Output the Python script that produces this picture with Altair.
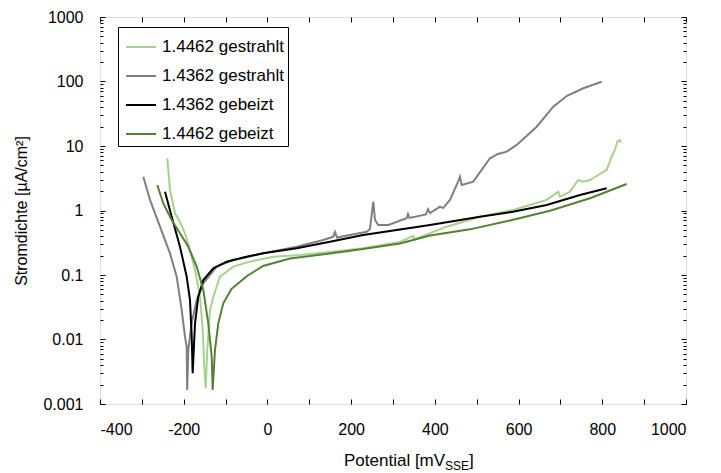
import altair as alt
import pandas as pd

SERIES = ["1.4462 gestrahlt", "1.4362 gestrahlt", "1.4362 gebeizt", "1.4462 gebeizt"]
COLORS = ["#a9d18e", "#7f7f7f", "#000000", "#548235"]

# 1.4462 gestrahlt
lg_E = [-239.2, -232.8, -220.8, -208.9, -196.9, -187.4, -173.0, -161.1, -154.6, -150.8,
        -147.5, -143.7, -137.2, -129.3, -113.3, -81.5, -41.6, 14.0, 77.8, 149.5,
        228.3, 316.7, 348.5, 351.0, 428.3, 507.8, 587.4, 667.2, 694.9, 698.9,
        722.8, 742.7, 753.9, 770.6, 790.4, 810.5, 822.5, 830.3, 835.8, 842.3, 843.9]
lg_i = [6.45, 2.08, 0.906, 0.664, 0.444, 0.272, 0.120, 0.0461, 0.0140, 0.00378,
        0.00175, 0.00687, 0.0286, 0.0461, 0.0942, 0.135, 0.161, 0.192, 0.204, 0.227,
        0.259, 0.325, 0.403, 0.355, 0.561, 0.802, 1.02, 1.46, 1.96, 1.64,
        1.96, 2.97, 2.80, 2.97, 3.55, 4.25, 6.82, 8.67, 11.7, 12.4, 11.2]

# 1.4362 gestrahlt
gr_E = [-296.6, -280.5, -256.7, -232.8, -216.8, -204.8, -196.9, -192.9, -191.7, -189.1,
        -180.9, -169.0, -153.2, -121.2, -81.5, -9.9, 69.9, 133.5, 157.3, 161.4,
        166.2, 197.3, 237.1, 245.0, 252.9, 257.0, 264.9, 288.8, 332.5, 335.8,
        339.4, 378.8, 383.6, 388.4, 412.3, 419.4, 436.2, 455.2, 460.0, 464.1,
        491.8, 531.7, 550.8, 571.6, 595.5, 643.3, 683.0, 714.9, 754.6, 798.6]
gr_i = [3.34, 1.46, 0.561, 0.217, 0.0942, 0.0286, 0.0110, 0.00773, 0.00165, 0.00687,
        0.0180, 0.0409, 0.0743, 0.135, 0.171, 0.217, 0.275, 0.349, 0.393, 0.465,
        0.381, 0.417, 0.469, 0.516, 1.37, 0.713, 0.595, 0.595, 0.757, 0.883,
        0.766, 0.867, 1.05, 0.914, 1.15, 1.09, 1.46, 2.77, 3.34, 2.48,
        2.80, 6.45, 7.52, 8.16, 10.4, 19.9, 40.7, 59.6, 78.5, 99.3]

# 1.4362 gebeizt
bk_E = [-244.7, -228.7, -208.9, -192.9, -185.0, -180.9, -178.6, -173.0, -165.2, -153.2,
        -129.3, -97.5, -49.8, -9.9, 69.9, 149.5, 228.8, 316.7, 388.4, 507.8,
        586.6, 667.2, 746.7, 810.5]
bk_i = [1.96, 0.802, 0.275, 0.0942, 0.0409, 0.0110, 0.00299, 0.0178, 0.0461, 0.0836,
        0.127, 0.161, 0.192, 0.217, 0.259, 0.328, 0.417, 0.507, 0.595, 0.802,
        0.957, 1.22, 1.74, 2.21]

# 1.4462 gebeizt
dg_E = [-263.1, -248.8, -228.7, -208.9, -189.1, -169.0, -153.2, -141.3, -133.1, -130.8,
        -125.3, -117.4, -105.4, -85.9, -48.8, -10.6, 53.9, 149.5, 228.3, 316.7,
        388.4, 483.9, 579.5, 675.1, 770.6, 858.2]
dg_i = [2.48, 1.29, 0.713, 0.444, 0.275, 0.135, 0.0585, 0.0178, 0.00541, 0.00165,
        0.00687, 0.0178, 0.0364, 0.0607, 0.0964, 0.138, 0.180, 0.215, 0.253, 0.308,
        0.41, 0.51, 0.70, 0.993, 1.55, 2.58]

X_LABELS = [-400, -200, 0, 200, 400, 600, 800, 1000]
X_TICKS = list(range(-400, 1001, 100))
Y_MAJOR = [0.001, 0.01, 0.1, 1, 10, 100, 1000]
Y_MINOR = [round(m * d, 6) for d in [0.001, 0.01, 0.1, 1, 10, 100] for m in range(2, 10)]
TITLE_PARTS = ["Potential [mV", "SSE", "]"]

rows = []
for name, es, iv in zip(SERIES, [lg_E, gr_E, bk_E, dg_E], [lg_i, gr_i, bk_i, dg_i]):
    for k, (e, v) in enumerate(zip(es, iv)):
        rows.append({"series": name, "E": e, "i": v, "k": k})
df = pd.DataFrame(rows)

W, H = 586, 387
FONT = "Liberation Sans"

xs = alt.Scale(domain=[-400, 1000], nice=False, zero=False)
ys = alt.Scale(type="log", domain=[0.001, 1000], nice=False)


def tick_axis(orient, offset, values, size):
    return alt.Axis(orient=orient, offset=offset, values=values, labels=False, domain=False,
                    ticks=True, tickSize=size, tickColor="black", tickWidth=1, grid=False,
                    title=None)


legend = alt.Legend(title=None, orient="none", legendX=18, legendY=10, strokeColor="black",
                    fillColor="white", padding=4, symbolOffset=3, symbolType="stroke",
                    symbolSize=900, symbolStrokeWidth=2, labelFontSize=17, labelFont=FONT,
                    labelColor="black", labelOffset=5, rowPadding=5)

lines = alt.Chart(df).mark_line(strokeWidth=2).encode(
    x=alt.X("E:Q", scale=xs, axis=alt.Axis(orient="bottom", values=X_LABELS, ticks=False,
                                             domain=False, grid=False, labelPadding=17,
                                             labelExpr="'' + datum.value",
                                             labelFontSize=16, labelFont=FONT,
                                             labelColor="black", title=None)),
    y=alt.Y("i:Q", scale=ys, axis=alt.Axis(orient="left", values=Y_MAJOR, format="~g",
                                             ticks=False, domain=False, grid=False,
                                             labelPadding=17, labelFontSize=16, labelFont=FONT,
                                             labelColor="black",
                                             title="Stromdichte [µA/cm²]", titleFont=FONT,
                                             titleFontSize=16, titleFontWeight="normal",
                                             titleColor="black", titlePadding=13)),
    color=alt.Color("series:N", scale=alt.Scale(domain=SERIES, range=COLORS), legend=legend),
    order=alt.Order("k:Q"),
)


def ghost(xaxis, yaxis):
    return alt.Chart(df).mark_point(opacity=0).encode(
        x=alt.X("E:Q", scale=xs, axis=xaxis),
        y=alt.Y("i:Q", scale=ys, axis=yaxis),
    )


g1 = ghost(tick_axis("top", -H, X_TICKS, 5), tick_axis("right", -W, Y_MAJOR, 5))
g2 = ghost(tick_axis("bottom", -H, X_TICKS, 5), tick_axis("right", -W, Y_MINOR, 3))
g3 = ghost(None, tick_axis("left", -W, Y_MAJOR, 5))
g4 = ghost(None, tick_axis("left", -W, Y_MINOR, 3))

tdf = pd.DataFrame({"t": TITLE_PARTS})
t_main = alt.Chart(tdf).transform_filter(alt.datum.t == TITLE_PARTS[0]).mark_text(
    align="left", baseline="alphabetic", fontSize=17, font=FONT, color="black"
).encode(x=alt.value(244), y=alt.value(449), text="t:N")
t_sub = alt.Chart(tdf).transform_filter(alt.datum.t == TITLE_PARTS[1]).mark_text(
    align="left", baseline="alphabetic", fontSize=12, font=FONT, color="black"
).encode(x=alt.value(345), y=alt.value(453), text="t:N")
t_end = alt.Chart(tdf).transform_filter(alt.datum.t == TITLE_PARTS[2]).mark_text(
    align="left", baseline="alphabetic", fontSize=17, font=FONT, color="black"
).encode(x=alt.value(369), y=alt.value(449), text="t:N")

chart = alt.layer(g1, g2, g3, g4, lines, t_main, t_sub, t_end).resolve_axis(
    x="independent", y="independent"
).properties(
    width=W, height=H,
    autosize=alt.AutoSizeParams(type="none"),
    padding={"left": 92, "top": 9, "right": 27, "bottom": 68},
).configure_view(stroke="black", strokeWidth=1).configure(font=FONT)

chart.save("out.html", embed_options={"renderer": "svg", "actions": False})
